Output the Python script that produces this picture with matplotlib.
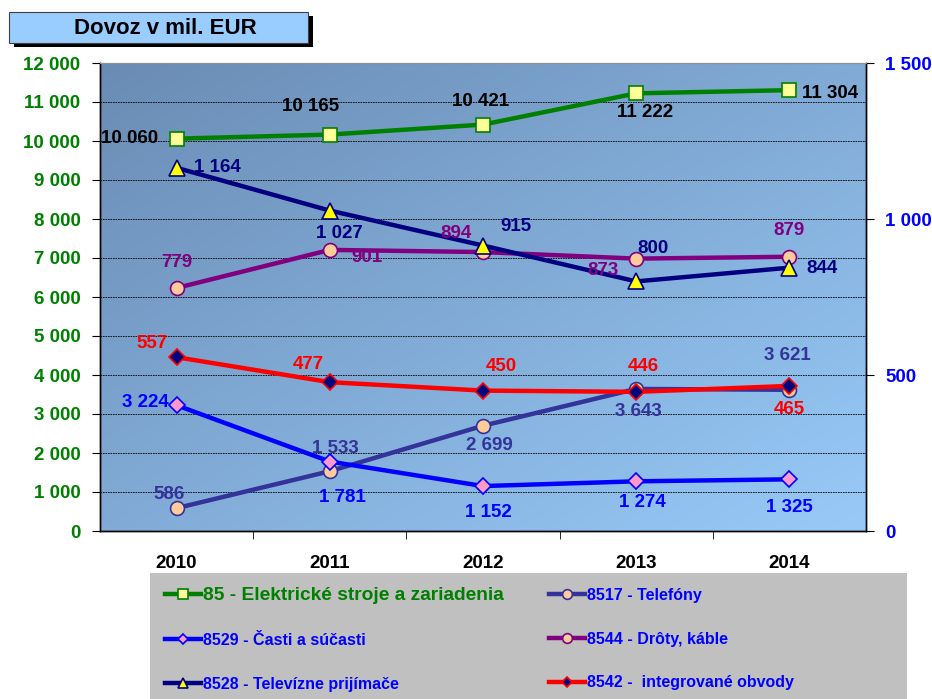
import numpy as np
import matplotlib
matplotlib.use('Agg')
import matplotlib.pyplot as plt
from matplotlib.colors import LinearSegmentedColormap
from matplotlib.patches import Rectangle
from matplotlib.ticker import FuncFormatter, MultipleLocator

plt.rcParams['font.family'] = ['Liberation Sans', 'DejaVu Sans']
plt.rcParams['font.weight'] = 'bold'

years = ['2010', '2011', '2012', '2013', '2014']

# left axis series (mil. EUR)
elektro = [10060, 10165, 10421, 11222, 11304]
telefony = [586, 1533, 2699, 3643, 3621]
casti = [3224, 1781, 1152, 1274, 1325]
# right axis series (mil. EUR)
droty = [779, 901, 894, 873, 879]
televizne = [1164, 1027, 915, 800, 844]
obvody = [557, 477, 450, 446, 465]

lab_elektro = '85 - Elektrické stroje a zariadenia'
lab_telefony = '8517 - Telefóny'
lab_casti = '8529 - Časti a súčasti'
lab_droty = '8544 - Drôty, káble'
lab_televizne = '8528 - Televízne prijímače'
lab_obvody = '8542 -  integrované obvody'

# data label offsets in pixels (dx, dy)
off_elektro = [(-47, 0), (-19, 28), (-2, 23), (9, -19), (41, -3)]
off_telefony = [(-8, 14), (6, 23), (6, -20), (2, -23), (-2, 34)]
off_casti = [(-31, 3), (13, -36), (5, -26), (6, -21), (0, -28)]
off_droty = [(0, 25), (37, -8), (-27, 19), (-33, -12), (0, 26)]
off_televizne = [(41, 0), (10, -23), (33, 19), (17, 33), (33, -1)]
off_obvody = [(-25, 14), (-21, 18), (18, 24), (7, 25), (0, -24)]

def fmt(v):
    return f"{int(v):,}".replace(',', ' ')

fig = plt.figure(figsize=(9.32, 6.99), dpi=100)
W, H = 932, 699

# title box with shadow
fig.patches.append(Rectangle((14/W, 1-47/H), 299/W, 31/H, transform=fig.transFigure,
                             facecolor='black', edgecolor='none', zorder=1))
fig.patches.append(Rectangle((9/W, 1-43/H), 299/W, 31/H, transform=fig.transFigure,
                             facecolor='#99CCFF', edgecolor='#404040', lw=0.8, zorder=2))
fig.text(165/W, 1-28/H, 'Dovoz v mil. EUR', ha='center', va='center',
         fontsize=16, fontweight='bold', color='black', zorder=3)

# legend background
fig.patches.append(Rectangle((150/W, 0), 757/W, 126/H, transform=fig.transFigure,
                             facecolor='#C0C0C0', edgecolor='none', zorder=0))

ax = fig.add_axes([100/W, 1-531/H, 766/W, 468/H])
cmap = LinearSegmentedColormap.from_list('bg', ['#6A8CB4', '#98CAF8'])
gx, gy = np.meshgrid(np.linspace(0, 1, 200), np.linspace(0, 1, 200))
ax.imshow((gx + gy) / 2, cmap=cmap, extent=(0, 1, 0, 1), transform=ax.transAxes,
          aspect='auto', origin='upper', zorder=0)

x = np.arange(len(years))
ax2 = ax.twinx()

l_el, = ax.plot(x, elektro, color='#008000', lw=3.2, marker='s', ms=10,
                mfc='#FFFF99', mec='#008000', mew=1.2, label=lab_elektro)
l_tel, = ax.plot(x, telefony, color='#333399', lw=3.2, marker='o', ms=10,
                 mfc='#FFCC99', mec='#333399', mew=1.2, label=lab_telefony)
l_cas, = ax.plot(x, casti, color='#0000FF', lw=3.2, marker='D', ms=8,
                 mfc='#FF99CC', mec='#0000FF', mew=1.2, label=lab_casti)
l_dro, = ax2.plot(x, droty, color='#800080', lw=3.2, marker='o', ms=10,
                  mfc='#FFCC99', mec='#800080', mew=1.2, label=lab_droty)
l_tv, = ax2.plot(x, televizne, color='#000080', lw=3.2, marker='^', ms=11,
                 mfc='#FFFF00', mec='#000080', mew=1.2, label=lab_televizne)
l_ob, = ax2.plot(x, obvody, color='#FF0000', lw=3.2, marker='D', ms=8,
                 mfc='#000080', mec='#FF0000', mew=1.2, label=lab_obvody)

series = [
    (ax, elektro, off_elektro, 'black'),
    (ax, telefony, off_telefony, '#333399'),
    (ax, casti, off_casti, '#0000FF'),
    (ax2, droty, off_droty, '#800080'),
    (ax2, televizne, off_televizne, '#000080'),
    (ax2, obvody, off_obvody, '#FF0000'),
]
for a, vals, offs, col in series:
    for i, v in enumerate(vals):
        a.annotate(fmt(v), (i, v), xytext=offs[i], textcoords='offset pixels',
                   ha='center', va='center', color=col, fontsize=13.5,
                   fontweight='bold', zorder=6)

ax.set_xlim(-0.5, 4.5)
ax.set_ylim(0, 12000)
ax2.set_ylim(0, 1500)
ax.yaxis.set_major_locator(MultipleLocator(1000))
ax2.yaxis.set_major_locator(MultipleLocator(500))
ax.yaxis.set_major_formatter(FuncFormatter(lambda v, p: fmt(v)))
ax2.yaxis.set_major_formatter(FuncFormatter(lambda v, p: fmt(v)))
ax.yaxis.grid(True, linestyle=(0, (2, 1)), color='black', linewidth=0.6)

ax.set_xticks(x)
ax.set_xticklabels(years)
ax.set_xticks([0.5, 1.5, 2.5, 3.5], minor=True)
ax.tick_params(axis='x', which='major', length=0, pad=17, labelsize=13.5)
ax.tick_params(axis='x', which='minor', length=6, direction='out', color='black')
ax.tick_params(axis='y', length=6, direction='out', pad=8, labelsize=13.5,
               labelcolor='#008000', color='black')
ax2.tick_params(axis='y', length=6, direction='out', pad=8, labelsize=13.5,
                labelcolor='#0000FF', color='black')

for a in (ax, ax2):
    for s in ('left', 'right', 'bottom'):
        a.spines[s].set_color('black')
        a.spines[s].set_linewidth(1.0)
    a.spines['top'].set_color('#909090')
    a.spines['top'].set_linewidth(0.8)

handles = [l_el, l_cas, l_tv, l_tel, l_dro, l_ob]
leg = fig.legend(handles, [h.get_label() for h in handles], loc='upper left',
                 bbox_to_anchor=(165/W, 1-587/H), ncol=2, frameon=False,
                 fontsize=11.5, handlelength=2.25, handletextpad=0.15,
                 columnspacing=2.8, labelspacing=1.8, borderpad=0,
                 borderaxespad=0, markerscale=0.7)
for t in leg.get_texts():
    t.set_color('#0000FF')
    t.set_fontweight('bold')
leg.get_texts()[0].set_color('#008000')
leg.get_texts()[0].set_fontsize(13.8)

fig.savefig('out.png', dpi=100, facecolor='white')
